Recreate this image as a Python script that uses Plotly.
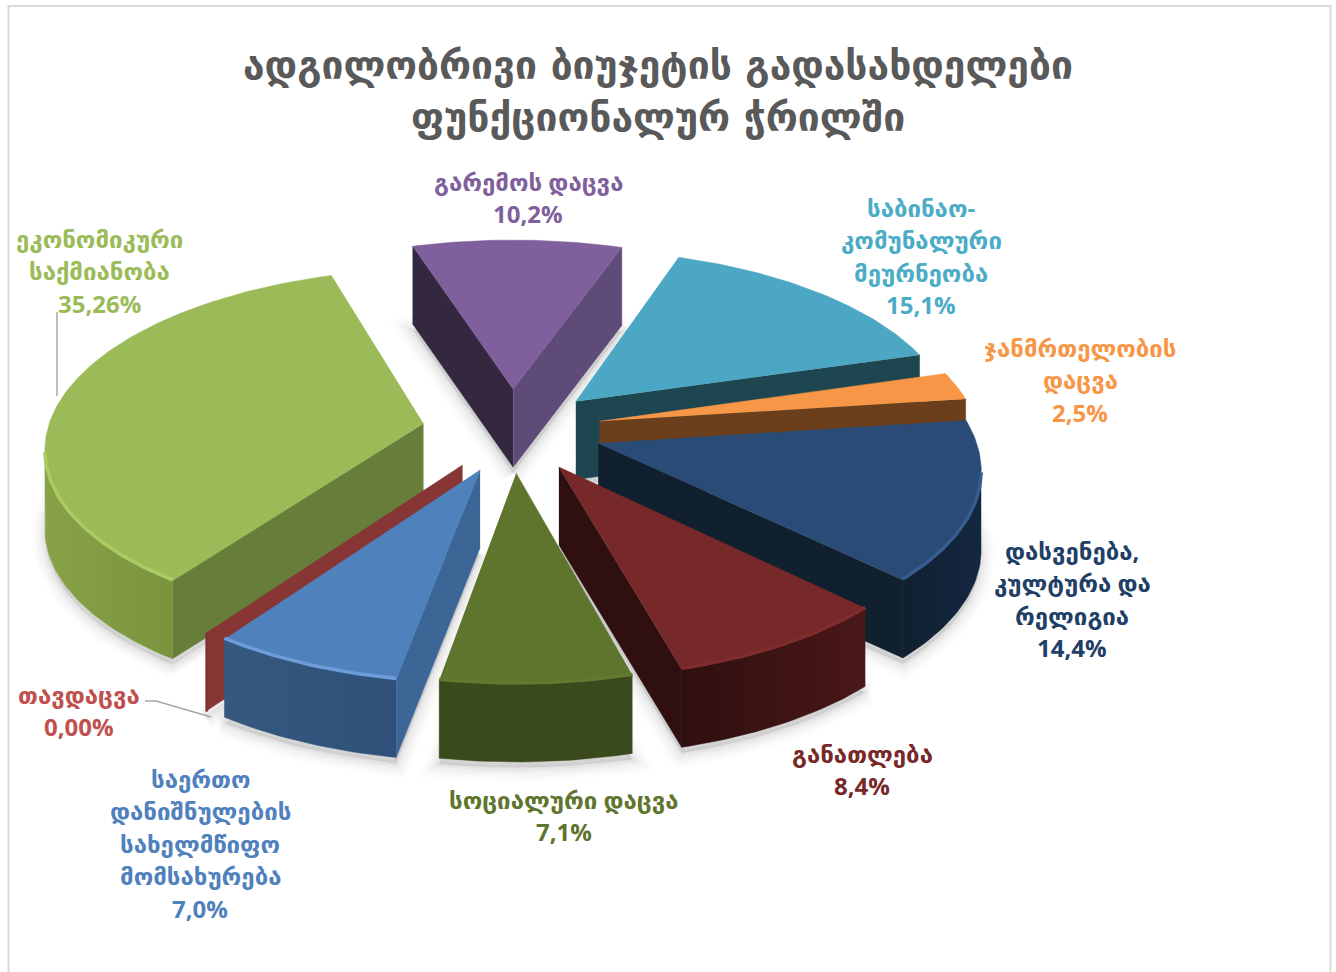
import numpy as np
import plotly.graph_objects as go

# --- data ---
title_lines = ["ადგილობრივი ბიუჯეტის გადასახდელები", "ფუნქციონალურ ჭრილში"]
categories = ["გარემოს დაცვა", "საბინაო-კომუნალური მეურნეობა", "ჯანმრთელობის დაცვა",
              "დასვენება, კულტურა და რელიგია", "განათლება", "სოციალური დაცვა",
              "საერთო დანიშნულების სახელმწიფო მომსახურება", "თავდაცვა", "ეკონომიკური საქმიანობა"]
values = [10.2, 15.1, 2.5, 14.4, 8.4, 7.1, 7.0, 0.0, 35.26]
value_labels = ["10,2%", "15,1%", "2,5%", "14,4%", "8,4%", "7,1%", "7,0%", "0,00%", "35,26%"]
label_lines = [["გარემოს დაცვა"], ["საბინაო-", "კომუნალური", "მეურნეობა"], ["ჯანმრთელობის", "დაცვა"],
               ["დასვენება,", "კულტურა და", "რელიგია"], ["განათლება"], ["სოციალური დაცვა"],
               ["საერთო", "დანიშნულების", "სახელმწიფო", "მომსახურება"], ["თავდაცვა"],
               ["ეკონომიკური", "საქმიანობა"]]

# --- style ---
top_colors = ["#7F5F9C", "#4BA7C3", "#F79646", "#2A4B76", "#772828", "#5F752E", "#4F81BD", "#7F3333", "#9BBB59"]
rim_colors = ["#7F5F9C", "#4BA7C3", "#F79646", "#355E8E", "#7E2C2C", "#62792F", "#6C9DD8", "#7F3333", "#AECB62"]
label_colors = ["#7F5F9C", "#4BACC6", "#F79646", "#1F3F66", "#772828", "#5F752E", "#4F81BD", "#C0504D", "#9BBB59"]
radial_left = ["#33283F", "#1E4650", "#6B3F1B", "#11202F", "#2F0F0F", "#3B4A1C", "#3B6695", "#873535", "#677E3A"]
radial_right = ["#5F4B78", "#1E4650", "#6B3F1B", "#11202F", "#2F0F0F", "#3B4A1C", "#3B6695", "#873535", "#677E3A"]
arc_grad = [("#5F4B78", "#5F4B78"), ("#1E4650", "#1E4650"), ("#6B3F1B", "#6B3F1B"), ("#11202F", "#132740"),
            ("#2F0F0F", "#4A1717"), ("#3B4A1C", "#3B4A1C"), ("#36587F", "#2F5078"), ("#873535", "#873535"),
            ("#88A248", "#7A943E")]
radii = [381, 381, 379, 375, 375, 372, 378, 378, 376]
nudges = [0, 0, 0, 0, 0, 0, 4, 4, 0]
label_centers = [(528, 181), (921, 207), (1080, 347), (1072, 550), (862, 753), (564, 799), (200, 778), (79, 694), (99, 238)]
draw_order = [0, 1, 2, 3, 8, 7, 6, 4, 5]

START_DEG, PULL, DEPTH_K, PERSP, THICK = -17.6, 90, 0.466, 0.00033, 78
CX, CY = 512, 430

def project(X, Y, drop=0.0):
    X, Y = np.asarray(X, float), np.asarray(Y, float)
    s = 1 / (1 + PERSP * Y)
    return CX + X * s, CY - DEPTH_K * Y * s + drop

# slice angles come from the values
total = sum(values)
edges = START_DEG + np.concatenate([[0], np.cumsum(values)]) * 360 / total

def wedge(i):
    a0, a1 = np.radians(edges[i]), np.radians(edges[i + 1])
    am = (a0 + a1) / 2
    ax, ay = PULL * np.sin(am), PULL * np.cos(am)
    th = np.linspace(a0, a1, max(2, int(values[i] * 3.6) + 2))
    return ax, ay, th, ax + radii[i] * np.sin(th), ay + radii[i] * np.cos(th)

fig = go.Figure()

def poly(xs, ys, color, grad=None):
    kw = dict(x=list(xs), y=list(ys), mode="lines", fill="toself", line=dict(width=0.5, color=color),
              fillcolor=color, hoverinfo="skip", showlegend=False)
    if grad:
        kw["fillgradient"] = dict(type="horizontal", colorscale=[[0, grad[0]], [1, grad[1]]])
    fig.add_trace(go.Scatter(**kw))

# floor shadow
for w, alpha in [(28, 0.012), (22, 0.014), (16, 0.018), (10, 0.022), (5, 0.03)]:
    for i in draw_order:
        ax, ay, th, ox, oy = wedge(i)
        sx, sy = project(np.r_[ax, ox], np.r_[ay, oy], THICK + 6)
        sx = sx + nudges[i]
        fig.add_trace(go.Scatter(x=np.r_[sx, sx[0]], y=np.r_[sy, sy[0]], mode="lines", fill="toself",
                                 fillcolor=f"rgba(0,0,0,{alpha})",
                                 line=dict(width=w, color=f"rgba(0,0,0,{alpha})"),
                                 hoverinfo="skip", showlegend=False))

for i in draw_order:
    ax, ay, th, ox, oy = wedge(i)
    px, py = project(ax, ay)
    tx, ty = project(ox, oy)
    px, tx = px + nudges[i], tx + nudges[i]
    # radial walls that face the viewer
    if np.sin(th[0]) < 0:
        poly([px, tx[0], tx[0], px], [py, ty[0], ty[0] + THICK, py + THICK], radial_left[i])
    if np.sin(th[-1]) > 0:
        poly([px, tx[-1], tx[-1], px], [py, ty[-1], ty[-1] + THICK, py + THICK], radial_right[i])
    # outer wall, only where it faces the viewer on screen
    vis = np.gradient(tx) < 0
    if values[i] > 0 and vis.sum() >= 2:
        wx, wy = tx[vis], ty[vis]
        poly(np.r_[wx, wx[::-1]], np.r_[wy, wy[::-1] + THICK], arc_grad[i][0], grad=arc_grad[i])
    # top face and rim
    if values[i] > 0:
        poly(np.r_[px, tx], np.r_[py, ty], top_colors[i])
        if vis.sum() >= 2:
            fig.add_trace(go.Scatter(x=tx[vis], y=ty[vis] - 1, mode="lines",
                                     line=dict(width=3.5, color=rim_colors[i]),
                                     hoverinfo="skip", showlegend=False))
    else:
        poly([tx[0], tx[0] + 2, tx[0] + 2, tx[0]], [ty[0], ty[0], ty[0] + THICK, ty[0] + THICK], top_colors[i])

# leader lines
fig.add_trace(go.Scatter(x=[57, 57], y=[312, 396], mode="lines", line=dict(color="#A6A6A6", width=1.5),
                         hoverinfo="skip", showlegend=False))
fig.add_trace(go.Scatter(x=[145, 156, 211], y=[701, 701, 717], mode="lines", line=dict(color="#A6A6A6", width=1.5),
                         hoverinfo="skip", showlegend=False))

FONT = "Open Sans, DejaVu Sans, sans-serif"
ann = []
for k, line in enumerate(title_lines):
    ann.append(dict(x=658, y=65 + 52 * k, text=f"<b>{line}</b>", showarrow=False, xanchor="center", yanchor="middle",
                    font=dict(family="DejaVu Sans", size=39, color="#595959")))
for i, lines in enumerate(label_lines):
    cx, cy = label_centers[i]
    for j, t in enumerate(lines + [value_labels[i]]):
        ann.append(dict(x=cx, y=cy + j * 32.5, text=f"<b>{t}</b>", showarrow=False, xanchor="center", yanchor="middle",
                        font=dict(family=FONT, size=24, color=label_colors[i])))

fig.update_layout(
    width=1336, height=972, margin=dict(l=0, r=0, t=0, b=0),
    paper_bgcolor="white", plot_bgcolor="white", showlegend=False,
    xaxis=dict(range=[0, 1336], visible=False, fixedrange=True),
    yaxis=dict(range=[972, 0], visible=False, fixedrange=True),
    annotations=ann,
    shapes=[dict(type="rect", x0=8.5, x1=1330.5, y0=6, y1=1000, line=dict(color="#D9D9D9", width=2), layer="below")],
)
fig.write_html("out.html", config={"displayModeBar": False},
               post_script="document.body.style.margin='0';document.documentElement.style.overflow='hidden';")
